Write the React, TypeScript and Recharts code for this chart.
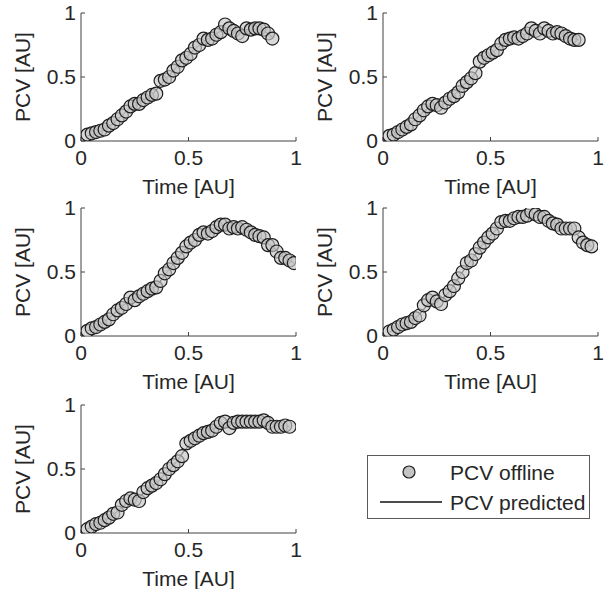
import { ComposedChart, Scatter, Line, XAxis, YAxis, Legend } from 'recharts';

// shared time grid, each panel uses the first N samples
const time = [
  0.03, 0.05, 0.07, 0.09, 0.11, 0.13, 0.15, 0.17, 0.19, 0.21,
  0.23, 0.25, 0.27, 0.29, 0.31, 0.33, 0.35, 0.37, 0.39, 0.41,
  0.43, 0.45, 0.47, 0.49, 0.51, 0.53, 0.55, 0.57, 0.59, 0.61,
  0.63, 0.65, 0.67, 0.69, 0.71, 0.73, 0.75, 0.77, 0.79, 0.81,
  0.83, 0.85, 0.87, 0.89, 0.91, 0.93, 0.95, 0.97, 0.99,
];

const p1Offline = [
  0.05, 0.06, 0.07, 0.08, 0.09, 0.12, 0.14, 0.17, 0.2, 0.23,
  0.27, 0.29, 0.29, 0.32, 0.34, 0.36, 0.37, 0.47, 0.48, 0.5,
  0.55, 0.58, 0.63, 0.65, 0.68, 0.73, 0.75, 0.8, 0.79, 0.8,
  0.83, 0.85, 0.91, 0.88, 0.86, 0.84, 0.82, 0.88, 0.87, 0.88,
  0.88, 0.87, 0.84, 0.8,
];
const p1Predicted = [
  0.04, 0.05, 0.06, 0.075, 0.09, 0.11, 0.14, 0.17, 0.2, 0.23,
  0.26, 0.28, 0.3, 0.32, 0.34, 0.36, 0.4, 0.44, 0.48, 0.51,
  0.55, 0.59, 0.62, 0.65, 0.69, 0.72, 0.75, 0.78, 0.8, 0.82,
  0.84, 0.86, 0.88, 0.87, 0.86, 0.85, 0.86, 0.87, 0.87, 0.87,
  0.87, 0.86, 0.84, 0.81,
];

const p2Offline = [
  0.04, 0.05, 0.07, 0.09, 0.11, 0.13, 0.17, 0.2, 0.24, 0.27,
  0.29, 0.28, 0.26, 0.3, 0.33, 0.35, 0.38, 0.43, 0.46, 0.49,
  0.53, 0.62, 0.65, 0.67, 0.69, 0.71, 0.76, 0.79, 0.8, 0.81,
  0.8, 0.82, 0.84, 0.88, 0.86, 0.84, 0.88, 0.86, 0.84, 0.85,
  0.84, 0.82, 0.8, 0.79, 0.79,
];
const p2Predicted = [
  0.04, 0.05, 0.07, 0.09, 0.11, 0.14, 0.17, 0.2, 0.23, 0.26,
  0.28, 0.28, 0.28, 0.3, 0.33, 0.36, 0.39, 0.43, 0.46, 0.49,
  0.53, 0.59, 0.63, 0.66, 0.69, 0.72, 0.75, 0.78, 0.8, 0.81,
  0.81, 0.82, 0.84, 0.86, 0.86, 0.86, 0.86, 0.86, 0.85, 0.85,
  0.84, 0.82, 0.81, 0.8, 0.79,
];

const p3Offline = [
  0.04, 0.06, 0.07, 0.09, 0.11, 0.13, 0.17, 0.2, 0.22, 0.25,
  0.3, 0.28, 0.31, 0.33, 0.35, 0.37, 0.38, 0.43, 0.49, 0.52,
  0.57, 0.61, 0.65, 0.7, 0.73, 0.75, 0.79, 0.81, 0.8, 0.82,
  0.85, 0.87, 0.87, 0.84, 0.85, 0.84, 0.85, 0.83, 0.81, 0.79,
  0.78, 0.77, 0.71, 0.71, 0.66, 0.61, 0.61, 0.59, 0.57,
];
const p3Predicted = [
  0.04, 0.05, 0.07, 0.09, 0.11, 0.14, 0.17, 0.2, 0.23, 0.26,
  0.28, 0.3, 0.31, 0.33, 0.35, 0.37, 0.39, 0.43, 0.48, 0.52,
  0.56, 0.61, 0.65, 0.69, 0.72, 0.75, 0.78, 0.8, 0.81, 0.83,
  0.85, 0.86, 0.86, 0.85, 0.85, 0.84, 0.84, 0.83, 0.81, 0.79,
  0.77, 0.75, 0.72, 0.7, 0.67, 0.63, 0.61, 0.59, 0.57,
];

const p4Offline = [
  0.035, 0.05, 0.07, 0.09, 0.1, 0.11, 0.14, 0.16, 0.24, 0.28,
  0.3, 0.27, 0.25, 0.32, 0.35, 0.39, 0.45, 0.5, 0.57, 0.59,
  0.64, 0.69, 0.73, 0.77, 0.8, 0.84, 0.89, 0.9, 0.9, 0.92,
  0.93, 0.93, 0.94, 0.97, 0.95, 0.93, 0.93, 0.9, 0.88, 0.87,
  0.84, 0.84, 0.84, 0.84, 0.77, 0.73, 0.71, 0.7,
];
const p4Predicted = [
  0.03, 0.05, 0.07, 0.08, 0.1, 0.12, 0.14, 0.17, 0.21, 0.25,
  0.28, 0.29, 0.29, 0.31, 0.35, 0.4, 0.45, 0.5, 0.55, 0.59,
  0.64, 0.69, 0.73, 0.77, 0.8, 0.84, 0.87, 0.89, 0.9, 0.91,
  0.92, 0.93, 0.94, 0.95, 0.95, 0.94, 0.93, 0.91, 0.89, 0.87,
  0.86, 0.85, 0.84, 0.82, 0.78, 0.75, 0.72, 0.7,
];

const p5Offline = [
  0.03, 0.05, 0.07, 0.08, 0.1, 0.12, 0.15, 0.16, 0.22, 0.25,
  0.27, 0.26, 0.25, 0.32, 0.35, 0.37, 0.39, 0.42, 0.46, 0.5,
  0.53, 0.56, 0.6, 0.7, 0.72, 0.74, 0.76, 0.78, 0.79, 0.8,
  0.83, 0.86, 0.87, 0.82, 0.86, 0.87, 0.87, 0.87, 0.87, 0.87,
  0.87, 0.88, 0.86, 0.83, 0.83, 0.83, 0.84, 0.83,
];
const p5Predicted = [
  0.03, 0.05, 0.07, 0.08, 0.1, 0.12, 0.14, 0.17, 0.2, 0.23,
  0.25, 0.27, 0.28, 0.31, 0.34, 0.37, 0.39, 0.42, 0.46, 0.49,
  0.53, 0.57, 0.62, 0.66, 0.7, 0.73, 0.75, 0.77, 0.79, 0.81,
  0.82, 0.84, 0.85, 0.85, 0.86, 0.86, 0.87, 0.87, 0.87, 0.87,
  0.87, 0.87, 0.86, 0.85, 0.84, 0.84, 0.84, 0.83,
];

const ticks = [0, 0.5, 1];

const FONT = '"Liberation Sans", Arial, Helvetica, sans-serif';
const INK = '#262626';
const BOX = '#404040';

const rows = (offline: number[], predicted: number[]) =>
  offline.map((v, i) => ({ t: time[i], offline: v, predicted: predicted[i] }));

// plot box sits 13px below each chart top, 128px tall; x from 81 to 296 inside a chart
const panels = [
  { left: 0, top: 0, width: 302, height: 202, data: rows(p1Offline, p1Predicted) },
  { left: 302, top: 0, width: 302, height: 202, data: rows(p2Offline, p2Predicted) },
  { left: 0, top: 195, width: 302, height: 202, data: rows(p3Offline, p3Predicted) },
  { left: 302, top: 195, width: 302, height: 202, data: rows(p4Offline, p4Predicted) },
  { left: 0, top: 392, width: 604, height: 197, data: rows(p5Offline, p5Predicted), legend: true },
];

const tickStyle = { fill: INK, fontSize: 21, fontFamily: FONT };

function Marker(props: any) {
  const { cx, cy } = props;
  if (cx == null || cy == null) return null;
  return (
    <circle cx={cx} cy={cy} r={6.5} fill="#c4c4c4" fillOpacity={0.65} stroke="#1e1e1e" strokeWidth={1.2} />
  );
}

const xLabel = (props: any) => {
  const vb = props.viewBox;
  return (
    <text x={vb.x + vb.width / 2} y={vb.y + 53} textAnchor="middle" fill={INK} fontSize={21} fontFamily={FONT}>
      Time [AU]
    </text>
  );
};

const yLabel = (props: any) => {
  const vb = props.viewBox;
  const cy = vb.y + vb.height / 2;
  return (
    <text
      x={22}
      y={cy}
      transform={`rotate(-90 22 ${cy})`}
      textAnchor="middle"
      dominantBaseline="central"
      fill={INK}
      fontSize={21}
      fontFamily={FONT}
    >
      PCV [AU]
    </text>
  );
};

function LegendBox(props: any) {
  const items = props.payload || [];
  const offline = items.find((p: any) => p.dataKey === 'offline');
  const predicted = items.find((p: any) => p.dataKey === 'predicted');
  return (
    <svg width={223} height={64} style={{ display: 'block' }}>
      <rect x={0.5} y={0.5} width={222} height={63} fill="#fff" stroke="#5a5a5a" strokeWidth={1} />
      <circle cx={42} cy={17} r={6} fill="#c4c4c4" stroke="#1e1e1e" strokeWidth={1.2} />
      <text x={83} y={17} dominantBaseline="central" fill={INK} fontSize={21} fontFamily={FONT}>
        {offline ? offline.value : 'PCV offline'}
      </text>
      <line x1={13} x2={75} y1={47} y2={47} stroke="#111" strokeWidth={1.4} />
      <text x={83} y={47} dominantBaseline="central" fill={INK} fontSize={21} fontFamily={FONT}>
        {predicted ? predicted.value : 'PCV predicted'}
      </text>
    </svg>
  );
}

function Panel({ width, height, data, legend }: any) {
  return (
    <ComposedChart
      width={width}
      height={height}
      data={data}
      margin={{ top: 13, right: width - 296, bottom: height - 191, left: 21 }}
    >
      <XAxis
        dataKey="t"
        type="number"
        domain={[0, 1]}
        ticks={ticks}
        interval={0}
        height={50}
        allowDataOverflow
        tickSize={-4}
        tickMargin={13}
        axisLine={{ stroke: BOX }}
        tickLine={{ stroke: BOX }}
        tick={tickStyle}
        label={xLabel}
      />
      <XAxis
        xAxisId="top"
        orientation="top"
        type="number"
        domain={[0, 1]}
        ticks={ticks}
        height={0}
        tickSize={-4}
        tickFormatter={() => ''}
        axisLine={{ stroke: BOX }}
        tickLine={{ stroke: BOX }}
      />
      <YAxis
        type="number"
        domain={[0, 1]}
        ticks={ticks}
        interval={0}
        width={60}
        allowDataOverflow
        tickSize={-4}
        tickMargin={9}
        axisLine={{ stroke: BOX }}
        tickLine={{ stroke: BOX }}
        tick={tickStyle}
        label={yLabel}
      />
      <YAxis
        yAxisId="right"
        orientation="right"
        type="number"
        domain={[0, 1]}
        ticks={ticks}
        width={0}
        tickSize={-4}
        tickFormatter={() => ''}
        axisLine={{ stroke: BOX }}
        tickLine={{ stroke: BOX }}
      />
      <Scatter name="PCV offline" dataKey="offline" shape={(p: any) => <Marker {...p} />} isAnimationActive={false} />
      <Line
        name="PCV predicted"
        type="linear"
        dataKey="predicted"
        stroke="#111"
        strokeWidth={1.2}
        dot={false}
        activeDot={false}
        isAnimationActive={false}
      />
      {legend && (
        <Legend
          layout="horizontal"
          verticalAlign="middle"
          align="center"
          content={(p: any) => <LegendBox {...p} />}
          wrapperStyle={{ position: 'absolute', left: 367, top: 63, width: 223, height: 64 }}
        />
      )}
    </ComposedChart>
  );
}

export default function App() {
  return (
    <div style={{ position: 'absolute', left: 0, top: 0, width: 604, height: 589, background: '#fff', overflow: 'hidden' }}>
      {panels.map((p, i) => (
        <div key={i} style={{ position: 'absolute', left: p.left, top: p.top }}>
          <Panel width={p.width} height={p.height} data={p.data} legend={p.legend} />
        </div>
      ))}
    </div>
  );
}
